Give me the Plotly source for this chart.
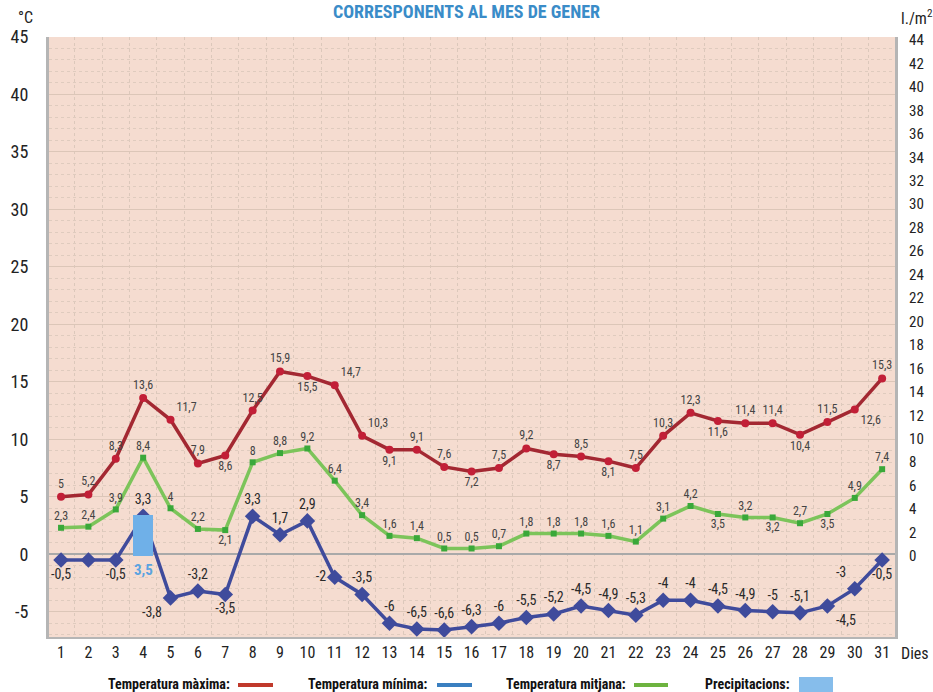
import plotly.graph_objects as go

days = list(range(1, 32))
temp_max = [5, 5.2, 8.3, 13.6, 11.7, 7.9, 8.6, 12.5, 15.9, 15.5, 14.7, 10.3, 9.1, 9.1, 7.6, 7.2,
            7.5, 9.2, 8.7, 8.5, 8.1, 7.5, 10.3, 12.3, 11.6, 11.4, 11.4, 10.4, 11.5, 12.6, 15.3]
temp_min = [-0.5, -0.5, -0.5, 3.3, -3.8, -3.2, -3.5, 3.3, 1.7, 2.9, -2, -3.5, -6, -6.5, -6.6, -6.3,
            -6, -5.5, -5.2, -4.5, -4.9, -5.3, -4, -4, -4.5, -4.9, -5, -5.1, -4.5, -3, -0.5]
temp_avg = [2.3, 2.4, 3.9, 8.4, 4, 2.2, 2.1, 8, 8.8, 9.2, 6.4, 3.4, 1.6, 1.4, 0.5, 0.5,
            0.7, 1.8, 1.8, 1.8, 1.6, 1.1, 3.1, 4.2, 3.5, 3.2, 3.2, 2.7, 3.5, 4.9, 7.4]
precip = [0, 0, 0, 3.5, 0, 0, 0, 0, 0, 0, 0, 0, 0, 0, 0, 0,
          0, 0, 0, 0, 0, 0, 0, 0, 0, 0, 0, 0, 0, 0, 0]
left_ticks = [-5, 0, 5, 10, 15, 20, 25, 30, 35, 40, 45]
right_ticks = list(range(0, 45, 2))

FONT = "Liberation Sans Narrow, Roboto Condensed, Roboto, sans-serif"


def fmt(v):
    return ("%g" % v).replace(".", ",")


max_pos = ["top center", "top center", "top center", "top center", "top right", "top center",
           "bottom center", "top center", "top center", "bottom center", "top right", "top right",
           "bottom center", "top center", "top center", "bottom center", "top center", "top center",
           "bottom center", "top center", "bottom center", "top center", "top center", "top center",
           "bottom center", "top center", "top center", "bottom center", "top center", "bottom right",
           "top center"]
min_pos = ["bottom center", "bottom center", "bottom center", "top center", "bottom left",
           "top center", "bottom center", "top center", "top center", "top center", "middle left",
           "top center"] + ["top center"] * 16 + ["bottom right", "top left", "bottom center"]
avg_pos = ["top center", "top center", "top center", "top center", "top center", "top center",
           "bottom center", "top center", "top center", "top center", "top center", "top center",
           "top center", "top center", "top center", "top center", "top center", "top center",
           "top center", "top center", "top center", "top center", "top center", "top center",
           "bottom center", "top center", "bottom center", "top center", "bottom center",
           "top center", "top center"]
min_text = [fmt(v) for v in temp_min]
min_text[1] = ""

fig = go.Figure()

fig.add_trace(go.Bar(
    x=days, y=precip, yaxis="y2", width=0.72,
    marker=dict(color="#6fb0e8", line=dict(width=0)),
    showlegend=False, hoverinfo="skip"))

fig.add_trace(go.Scatter(
    x=days, y=temp_avg, mode="lines+markers+text",
    line=dict(color="#7cc45a", width=3.5),
    marker=dict(symbol="square", size=6, color="#3aa83a"),
    text=[fmt(v) for v in temp_avg], textposition=avg_pos,
    textfont=dict(family=FONT, size=12, color="#444"),
    showlegend=False))

fig.add_trace(go.Scatter(
    x=days, y=temp_max, mode="lines+markers+text",
    line=dict(color="#a32832", width=3.5),
    marker=dict(symbol="circle", size=8, color="#c21f37"),
    text=[fmt(v) for v in temp_max], textposition=max_pos,
    textfont=dict(family=FONT, size=12, color="#444"),
    showlegend=False))

fig.add_trace(go.Scatter(
    x=days, y=temp_min, mode="lines+markers+text",
    line=dict(color="#3f4b9c", width=3.5),
    marker=dict(symbol="diamond", size=12, color="#3f4b9c"),
    text=min_text, textposition=min_pos,
    textfont=dict(family=FONT, size=14, color="#2a2a2a"),
    showlegend=False))

W, H = 933, 692
ml, mr, mt, mb = 49, 38, 37, 55
pw, ph = W - ml - mr, H - mt - mb


def px(x):
    return (x - ml) / pw


def py(y):
    return (H - mb - y) / ph


annotations = []
for d, p in zip(days, precip):
    if p > 0:
        annotations.append(dict(x=d, y=0, yref="y2", xref="x", text="<b>" + fmt(p) + "</b>",
                                showarrow=False, xanchor="center", yanchor="top", yshift=-3,
                                font=dict(family=FONT, size=15, color="#5aa3e0")))

annotations += [
    dict(x=px(466), y=py(12), xref="paper", yref="paper", xanchor="center", yanchor="middle",
         text="<b>CORRESPONENTS AL MES DE GENER</b>", showarrow=False,
         font=dict(family=FONT, size=18, color="#3a8cc8")),
    dict(x=px(25), y=py(18), xref="paper", yref="paper", xanchor="center", yanchor="middle",
         text="°C", showarrow=False, font=dict(family=FONT, size=16, color="#222")),
    dict(x=px(917), y=py(18), xref="paper", yref="paper", xanchor="center", yanchor="middle",
         text="l./m<sup>2</sup>", showarrow=False, font=dict(family=FONT, size=16, color="#222")),
    dict(x=px(915), y=py(653), xref="paper", yref="paper", xanchor="center", yanchor="middle",
         text="Dies", showarrow=False, font=dict(family=FONT, size=16, color="#222")),
]

legend_items = [
    ("Temperatura màxima:", 232, 238, 273, "#c0392b", "line"),
    ("Temperatura mínima:", 430, 437, 472, "#3a7fc0", "line"),
    ("Temperatura mitjana:", 628, 634, 668, "#6db33f", "line"),
    ("Precipitacions:", 792, 799, 833, "#86bdeb", "box"),
]
shapes = []
for label, tx, x0, x1, col, kind in legend_items:
    annotations.append(dict(x=px(tx), y=py(684), xref="paper", yref="paper", xanchor="right",
                            yanchor="middle", text="<b>" + label + "</b>", showarrow=False,
                            font=dict(family=FONT, size=14, color="#111")))
    if kind == "line":
        shapes.append(dict(type="line", xref="paper", yref="paper", x0=px(x0), x1=px(x1),
                           y0=py(685), y1=py(685), line=dict(color=col, width=4)))
    else:
        shapes.append(dict(type="rect", xref="paper", yref="paper", x0=px(x0), x1=px(x1),
                           y0=py(692), y1=py(677), fillcolor=col, line=dict(width=0)))

fig.update_layout(
    width=W, height=H,
    margin=dict(l=ml, r=mr, t=mt, b=mb, autoexpand=False),
    paper_bgcolor="white",
    plot_bgcolor="#f5dcd0",
    font=dict(family=FONT, color="#222"),
    bargap=0,
    xaxis=dict(range=[0.56, 31.47], tickvals=days, ticktext=[str(d) for d in days],
               tickfont=dict(size=16), showgrid=False, zeroline=False,
               showline=True, linecolor="#b5b5b5", linewidth=2,
               minor=dict(tick0=0.5, dtick=1, showgrid=True, gridcolor="#dcc8bb",
                          griddash="dot", gridwidth=1),
               ticks="", fixedrange=True, automargin=False),
    yaxis=dict(range=[-7.2, 45], tickvals=left_ticks, ticktext=[str(t) for t in left_ticks],
               tickfont=dict(size=18), showgrid=True, gridcolor="#dcc6b8", gridwidth=1,
               zeroline=True, zerolinecolor="#a9a9a9", zerolinewidth=2,
               showline=True, linecolor="#b5b5b5", linewidth=3, ticks="",
               ticklabelstandoff=14, automargin=False, fixedrange=True,
               minor=dict(dtick=1, showgrid=True, gridcolor="#dfcbbe", griddash="dot",
                          gridwidth=1)),
    yaxis2=dict(range=[-6.91, 44.26], overlaying="y", side="right",
                tickvals=right_ticks, ticktext=[str(t) for t in right_ticks],
                tickfont=dict(size=15), showgrid=False, zeroline=False,
                showline=True, linecolor="#b5b5b5", linewidth=3, ticks="",
                ticklabelstandoff=8, automargin=False, fixedrange=True),
    annotations=annotations,
    shapes=shapes,
)

fig.write_html("out.html", config={"displayModeBar": False},
               post_script="document.body.style.margin='0';document.body.style.overflow='hidden';")
